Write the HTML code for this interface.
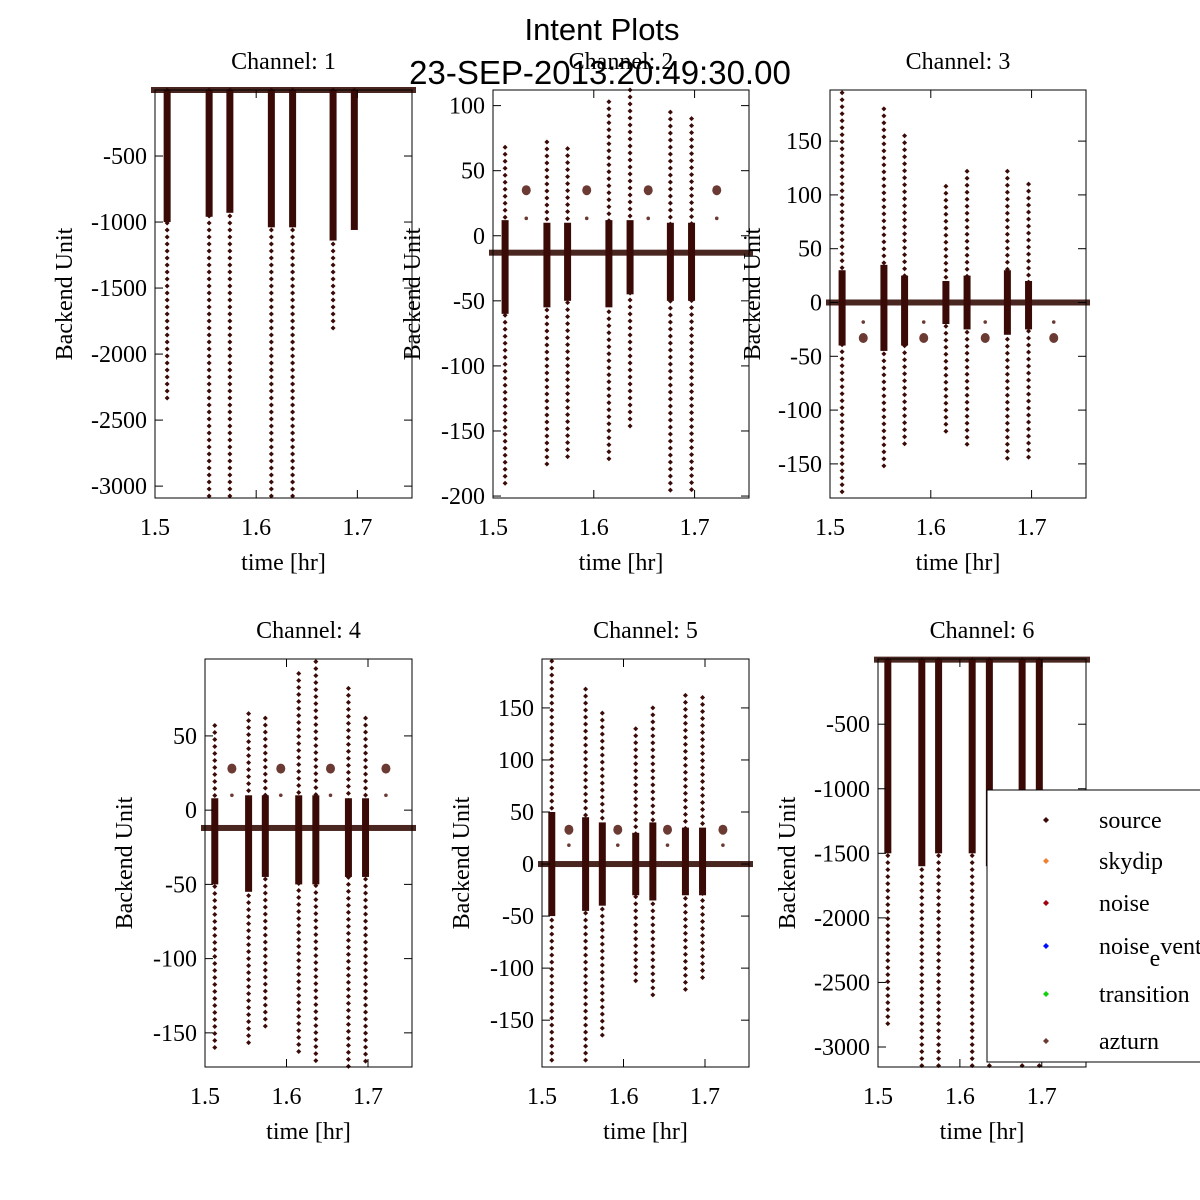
<!DOCTYPE html>
<html><head><meta charset="utf-8"><style>
body{margin:0;background:#fff}
svg{display:block}
.t{font-family:"Liberation Serif",serif;font-size:24px;fill:#000}
</style></head><body>
<svg id="c" width="1200" height="1200" xmlns="http://www.w3.org/2000/svg">
<text x="602" y="40" text-anchor="middle" font-family="Liberation Sans, sans-serif" font-size="31">Intent Plots</text>
<text x="600" y="84" text-anchor="middle" font-family="Liberation Sans, sans-serif" font-size="33">23-SEP-2013:20:49:30.00</text>
</svg>
<script>
const spikeX = [1.512, 1.5535, 1.574, 1.615, 1.636, 1.676, 1.697];
const blobX = [1.533, 1.593, 1.654, 1.722];
const baselines = [0, -13, 0, -12, 0, 0];
const spikeHi = [
 [0,0,0,0,0,0,0],
 [68,72,67,103,112,95,90],
 [195,180,155,108,122,122,110],
 [57,65,62,92,100,82,62],
 [195,168,145,130,150,162,160],
 [0,0,0,0,0,0,0]];
const spikeLo = [
 [-2380,-3090,-3090,-3090,-3090,-1840,-1060],
 [-195,-180,-170,-173,-150,-200,-200],
 [-182,-155,-132,-120,-137,-150,-150],
 [-163,-158,-150,-165,-173,-173,-173],
 [-195,-190,-165,-115,-128,-125,-110],
 [-2830,-3155,-3155,-3155,-3155,-3155,-3155]];
const denseHi = [
 [0,0,0,0,0,0,0],[12,10,10,12,12,10,10],[30,35,25,20,25,30,20],[8,10,10,10,10,8,8],[50,45,40,30,40,35,35],[0,0,0,0,0,0,0]];
const denseLo = [
 [-1000,-960,-930,-1040,-1040,-1140,-1060],[-60,-55,-50,-55,-45,-50,-50],[-40,-45,-40,-20,-25,-30,-25],[-50,-55,-45,-50,-50,-45,-45],[-50,-45,-40,-30,-35,-30,-30],[-1500,-1600,-1500,-1500,-1600,-1500,-1500]];
const blobY = [null, 35, -33, 28, 33, null];
const yTicks = [
 [-500,-1000,-1500,-2000,-2500,-3000],
 [100,50,0,-50,-100,-150,-200],
 [150,100,50,0,-50,-100,-150],
 [50,0,-50,-100,-150],
 [150,100,50,0,-50,-100,-150],
 [-500,-1000,-1500,-2000,-2500,-3000]];
const xTicks = [1.5, 1.6, 1.7];
const yRanges = [[-3090,0],[-201.5,112],[-181.7,197.5],[-173,101.8],[-195,197],[-3155,5]];
const boxes = [[155,90,412,498],[493,90,749,498],[830,90,1086,498],[205,659,412,1067],[542,659,749,1067],[878,659,1086,1067]];
const ylabX = [72,420,760,132,469,795];
const legendNames = ["source","skydip","noise","noise_event","transition","azturn"];
const legendColors = ["#3a0a06","#f08030","#a00010","#0010ff","#10d010","#6b3a33"];

const NS="http://www.w3.org/2000/svg", svg=document.getElementById('c');
function mk(tag,attrs,parent){const e=document.createElementNS(NS,tag);for(const k in attrs)e.setAttribute(k,attrs[k]);(parent||svg).appendChild(e);return e;}
const DOT="#3a0a06", BLOB="#6b3a33";
boxes.forEach((b,i)=>{
  const [x0,y0,x1,y1]=b, [ymin,ymax]=yRanges[i];
  const g=mk('g',{});
  
  
  const sx=v=>x0+(v-1.5)/0.254*(x1-x0);
  const sy=v=>y1-(v-ymin)/(ymax-ymin)*(y1-y0);
  const clip=mk('clipPath',{id:'cl'+i},g);mk('rect',{x:x0-6,y:y0-6,width:x1-x0+12,height:y1-y0+12},clip);
  const pg=mk('g',{'clip-path':'url(#cl'+i+')'},g);
  const bl=mk('rect',{x:x0-4,y:sy(baselines[i])-3,width:x1-x0+8,height:6,fill:'#4a2620'},pg);
  
  
  spikeX.forEach((sxv,k)=>{
    const cx=sx(sxv);
    const d=mk('rect',{x:cx-3.5,y:sy(denseHi[i][k]),width:7,height:Math.max(1,sy(denseLo[i][k])-sy(denseHi[i][k])),fill:DOT},pg);
    
    
    const top=sy(spikeHi[i][k]), bot=sy(spikeLo[i][k]);
    for(let y=top;y<=bot;y+=7){
      const p=mk('path',{d:`M${cx-2.5},${y}L${cx},${y-2.5}L${cx+2.5},${y}L${cx},${y+2.5}Z`,fill:DOT},pg);
      
      
    }
  });
  if(blobY[i]!==null){blobX.forEach(bx=>{
    const c=mk('ellipse',{cx:sx(bx),cy:sy(blobY[i]),rx:4.5,ry:5,fill:BLOB},pg);
    
    
    const c2=mk('circle',{cx:sx(bx),cy:sy(blobY[i])+(sy(baselines[i])-sy(blobY[i]))*0.45,r:1.8,fill:BLOB},pg);
    
    
  });}
  mk('rect',{x:x0,y:y0,width:x1-x0,height:y1-y0,fill:'none',stroke:'#000','stroke-width':1},g);
  xTicks.forEach(v=>{
    const x=sx(v);
    mk('line',{x1:x,x2:x,y1:y1,y2:y1-8,stroke:'#000'},g);
    mk('line',{x1:x,x2:x,y1:y0,y2:y0+8,stroke:'#000'},g);
    const t=mk('text',{x:x,y:y1+37,'text-anchor':'middle',class:'t'},g);t.textContent=v.toFixed(1);
    
    
  });
  yTicks[i].forEach(v=>{
    const y=sy(v);
    mk('line',{x1:x0,x2:x0+8,y1:y,y2:y,stroke:'#000'},g);
    mk('line',{x1:x1,x2:x1-8,y1:y,y2:y,stroke:'#000'},g);
    const t=mk('text',{x:x0-8,y:y+8,'text-anchor':'end',class:'t'},g);t.textContent=v;
    
    
  });
  const tt=mk('text',{x:(x0+x1)/2,y:y0-21,'text-anchor':'middle',class:'t'},g);tt.textContent='Channel: '+(i+1);
  
  
  const xl=mk('text',{x:(x0+x1)/2,y:y1+72,'text-anchor':'middle',class:'t'},g);xl.textContent='time [hr]';
  
  
  const yc=(y0+y1)/2;
  const yl=mk('text',{x:ylabX[i],y:yc,'text-anchor':'middle',class:'t',transform:`rotate(-90 ${ylabX[i]} ${yc})`},g);yl.textContent='Backend Unit';
  
  
});
const lg=mk('g',{});


mk('rect',{x:987,y:790,width:230,height:272,fill:'#fff',stroke:'#000'},lg);
const ly=[820,861,903,946,994,1041];
legendNames.forEach((n,k)=>{
  const e=mk('g',{},lg);
  
  
  const y=ly[k];
  mk('path',{d:`M1043,${y}L1046,${y-3}L1049,${y}L1046,${y+3}Z`,fill:legendColors[k]},e);
  const t=mk('text',{x:1099,y:y+8,class:'t'},e);
  if(n==='noise_event'){t.textContent='noise';const s=mk('tspan',{dy:12},t);s.textContent='e';const s2=mk('tspan',{dy:-12},t);s2.textContent='vent';}
  else t.textContent=n;
});
</script>
</body></html>
